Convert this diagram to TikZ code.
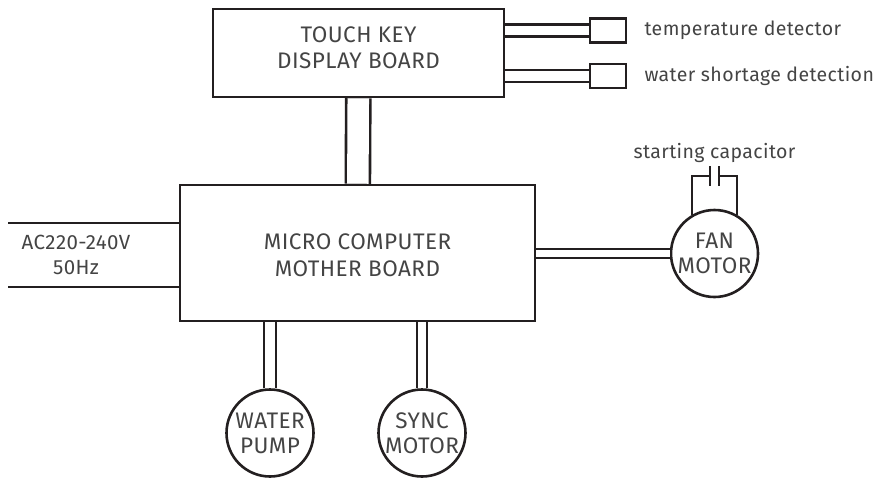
\documentclass[tikz,border=0pt]{standalone}
\usepackage{fontspec}
\setmainfont[LetterSpace=2]{Fira Sans}
\usepackage{tikz}
\usetikzlibrary{positioning}
\definecolor{ink}{HTML}{231F20}
\definecolor{txt}{HTML}{444444}
\begin{document}
\begin{tikzpicture}[x=1pt,y=-1pt,line width=2.6pt,color=ink]
		\tikzstyle{board}=[rectangle,draw,inner sep=0pt];
		\tikzstyle{boardtext}=[align=center,text=txt,font=\fontsize{22.5}{26.5}\selectfont];
		\tikzstyle{sensor}=[rectangle,draw,minimum width=36pt,minimum height=24pt,inner sep=0pt];
		\tikzstyle{motor}=[circle,draw,minimum size=87pt,inner sep=0pt,align=center,
			text=txt,font=\fontsize{22.5}{25}\selectfont];
		\tikzstyle{note}=[text=txt,font=\fontsize{19.5}{24}\selectfont,inner sep=0pt];
		\tikzstyle{cable}=[double,double distance=9.5pt];
		\useasboundingbox(0,0)rectangle(880,477);

		\node[board,minimum width=291pt,minimum height=88pt](tk) at (358.5,53){};
		\node[boardtext](tktext) at ([yshift=5.5pt]tk.center){TOUCH KEY\\DISPLAY BOARD};
		\node[board,minimum width=355pt,minimum height=136pt](mb) at (357.5,253){};
		\node[boardtext](mbtext) at ([yshift=-2pt]mb.center){MICRO COMPUTER\\MOTHER BOARD};

		\node[sensor](t1) at (608,30.5){};
		\node[sensor](t2) at (608,76){};
		\node[note,anchor=west,right=16pt of t1](t1label){temperature detector};
		\node[note,anchor=west,right=16pt of t2](t2label){water shortage detection};
		\draw[cable](tk.east|-t1)--(t1);
		\draw[cable](tk.east|-t2)--(t2);

		\draw[cable,double distance=21.5pt](tk)--(mb);

		\coordinate(ac1) at (8,223);
		\coordinate(ac2) at (8,287);
		\draw(ac1)--(ac1-|mb.west);
		\draw(ac2)--(ac2-|mb.west);
		\node[boardtext,font=\fontsize{20.5}{25}\selectfont](actext) at (76,255){AC220-240V\\50Hz};

		\node[motor](fan) at (714.5,253.5){FAN\\MOTOR};
		\draw[cable,double distance=6.5pt](mb.east|-fan)--(fan);
		\coordinate(c1) at (710,176);
		\coordinate(c2) at (719,176);
		\draw(fan.120)|-(c1);
		\draw(fan.60)|-(c2);
		\draw([yshift=10pt]c1)--([yshift=-10pt]c1);
		\draw([yshift=10pt]c2)--([yshift=-10pt]c2);
		\node[note](caplabel) at (714.5,153){starting capacitor};

		\node[motor](pump) at (270,433){WATER\\PUMP};
		\node[motor](sync) at (422,433){SYNC\\MOTOR};
		\draw[cable](mb.south-|pump)--(pump);
		\draw[cable,double distance=7.5pt](mb.south-|sync)--(sync);
	\end{tikzpicture}
\end{document}
